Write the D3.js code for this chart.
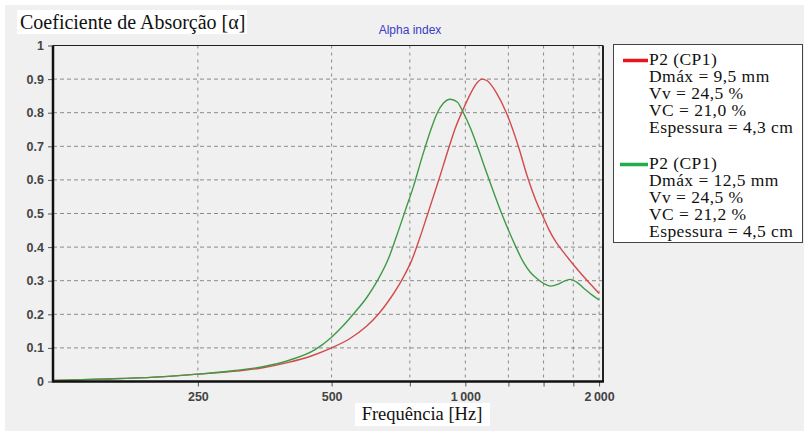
<!DOCTYPE html>
<html>
<head>
<meta charset="utf-8">
<script src="https://cdn.jsdelivr.net/npm/d3@7"></script>
<style>
  body { margin: 0; background: #fff; }
  svg { display: block; }
</style>
</head>
<body>
<div id="chart"></div>
<script>
// frequências (Hz) e coeficientes
const redFreq  = [118, 150, 200, 250, 300, 350, 400, 450, 500, 550, 600, 637, 680, 725, 758, 790, 821, 869, 915, 950, 985, 1030, 1064, 1090, 1120, 1174, 1237, 1316, 1379, 1445, 1499, 1538, 1603, 1663, 1733, 1816, 1912, 2000];
const redAlpha = [0.003, 0.007, 0.013, 0.022, 0.030, 0.041, 0.057, 0.076, 0.100, 0.128, 0.165, 0.200, 0.250, 0.310, 0.362, 0.428, 0.495, 0.595, 0.690, 0.755, 0.805, 0.860, 0.890, 0.900, 0.895, 0.860, 0.800, 0.700, 0.610, 0.535, 0.488, 0.455, 0.413, 0.385, 0.355, 0.323, 0.290, 0.262];

const greenFreq  = [118, 150, 200, 250, 300, 350, 403, 459, 500, 530, 559, 600, 634, 671, 699, 733, 764, 800, 834, 865, 892, 925, 959, 990, 1026, 1064, 1121, 1199, 1300, 1351, 1400, 1460, 1510, 1554, 1620, 1680, 1724, 1780, 1850, 1930, 2000];
const greenAlpha = [0.003, 0.007, 0.013, 0.022, 0.032, 0.044, 0.064, 0.095, 0.132, 0.165, 0.200, 0.250, 0.300, 0.365, 0.430, 0.510, 0.580, 0.670, 0.745, 0.800, 0.828, 0.840, 0.832, 0.800, 0.755, 0.700, 0.615, 0.510, 0.400, 0.355, 0.325, 0.303, 0.290, 0.284, 0.290, 0.300, 0.304, 0.296, 0.277, 0.257, 0.243];

const xTickLabels = [250, 500, 1000, 2000];
const xGrid = [250, 500, 750, 1000, 1250, 1500, 1750, 2000];
const yTicks = [0, 0.1, 0.2, 0.3, 0.4, 0.5, 0.6, 0.7, 0.8, 0.9, 1];

const legendRed = ["P2 (CP1)", "Dmáx = 9,5 mm", "Vv = 24,5 %", "VC = 21,0 %", "Espessura = 4,3 cm"];
const legendGreen = ["P2 (CP1)", "Dmáx = 12,5 mm", "Vv = 24,5 %", "VC = 21,2 %", "Espessura = 4,5 cm"];

const W = 804, H = 431;
const plot = { left: 53, right: 603, top: 45.5, bottom: 381.5 };

const svg = d3.select("#chart").append("svg")
  .attr("width", W).attr("height", H);

svg.append("rect").attr("x", 5).attr("y", 5).attr("width", W - 5).attr("height", H - 5)
  .attr("fill", "#f0f0f0");

const x = d3.scaleLog().domain([118, 2041]).range([plot.left, plot.right]);
const y = d3.scaleLinear().domain([0, 1]).range([plot.bottom, plot.top]);

// grade
const grid = svg.append("g");
grid.selectAll(".hg").data(yTicks.filter(d => d > 0 && d < 1)).join("line")
  .attr("x1", plot.left).attr("x2", plot.right)
  .attr("y1", d => y(d)).attr("y2", d => y(d))
  .attr("stroke", "#8a8a8a").attr("stroke-dasharray", "4,3");
grid.selectAll(".vg").data(xGrid).join("line")
  .attr("x1", d => x(d)).attr("x2", d => x(d))
  .attr("y1", plot.top).attr("y2", plot.bottom)
  .attr("stroke", "#8a8a8a").attr("stroke-dasharray", "3,4");

// eixos
const yAxis = d3.axisLeft(y).tickValues(yTicks).tickSize(5).tickFormat(d => d === 0 || d === 1 ? d3.format("d")(d) : d3.format(".1f")(d));
const gy = svg.append("g").attr("transform", `translate(${plot.left},0)`).call(yAxis);
gy.select(".domain").remove();
gy.selectAll(".tick line").attr("stroke", "#555");
gy.selectAll("text").attr("font-family", "Liberation Sans, Arial, sans-serif")
  .attr("font-size", 12.5).attr("font-weight", "bold").attr("fill", "#444").attr("dx", -1);

const xAxis = d3.axisBottom(x).tickValues(xGrid).tickSize(5)
  .tickFormat(d => xTickLabels.includes(d) ? d3.format(",")(d).replace(",", "\u2009") : "");
const gx = svg.append("g").attr("transform", `translate(0,${plot.bottom})`).call(xAxis);
gx.select(".domain").remove();
gx.selectAll(".tick line").attr("stroke", "#555");
gx.selectAll("text").attr("font-family", "Liberation Sans, Arial, sans-serif")
  .attr("font-size", 12.5).attr("font-weight", "bold").attr("fill", "#444").attr("dy", "0.95em");

// curvas
const line = d3.line().x(d => x(d[0])).y(d => y(d[1])).curve(d3.curveMonotoneX);
svg.append("path").datum(d3.zip(redFreq, redAlpha))
  .attr("fill", "none").attr("stroke", "#d24a4a").attr("stroke-width", 1.4).attr("d", line);
svg.append("path").datum(d3.zip(greenFreq, greenAlpha))
  .attr("fill", "none").attr("stroke", "#3f9a45").attr("stroke-width", 1.4).attr("d", line);

// moldura
svg.append("line").attr("x1", plot.left).attr("x2", plot.right).attr("y1", plot.top).attr("y2", plot.top)
  .attr("stroke", "#222").attr("stroke-width", 1);
svg.append("line").attr("x1", plot.right).attr("x2", plot.right).attr("y1", plot.top).attr("y2", plot.bottom)
  .attr("stroke", "#222").attr("stroke-width", 2);
svg.append("line").attr("x1", plot.left).attr("x2", plot.left).attr("y1", plot.top).attr("y2", plot.bottom + 1)
  .attr("stroke", "#111").attr("stroke-width", 2.5);
svg.append("line").attr("x1", plot.left).attr("x2", plot.right + 1).attr("y1", plot.bottom).attr("y2", plot.bottom)
  .attr("stroke", "#111").attr("stroke-width", 2.5);

// títulos
svg.append("rect").attr("x", 17).attr("y", 10).attr("width", 230).attr("height", 24).attr("fill", "#fff");
svg.append("text").attr("x", 20).attr("y", 29)
  .attr("font-family", "Liberation Serif, Times New Roman, serif").attr("font-size", 20)
  .attr("fill", "#111").text("Coeficiente de Absorção [α]");

svg.append("text").attr("x", 410).attr("y", 34).attr("text-anchor", "middle")
  .attr("font-family", "Liberation Sans, Arial, sans-serif").attr("font-size", 12)
  .attr("fill", "#3a3ac8").text("Alpha index");

svg.append("rect").attr("x", 355).attr("y", 403).attr("width", 135).attr("height", 23).attr("fill", "#fff");
svg.append("text").attr("x", 422).attr("y", 420).attr("text-anchor", "middle")
  .attr("font-family", "Liberation Serif, Times New Roman, serif").attr("font-size", 18.5)
  .attr("fill", "#111").text("Frequência [Hz]");

// legenda
const lg = svg.append("g");
lg.append("rect").attr("x", 613.5).attr("y", 44.5).attr("width", 189).attr("height", 198)
  .attr("fill", "#fff").attr("stroke", "#444");
const groups = [
  { lines: legendRed, color: "#e8141e", y0: 65, x1: 623 },
  { lines: legendGreen, color: "#1fae4a", y0: 169, x1: 620 }
];
groups.forEach(gr => {
  lg.append("line").attr("x1", gr.x1).attr("x2", 648).attr("y1", gr.y0 - 4.5).attr("y2", gr.y0 - 4.5)
    .attr("stroke", gr.color).attr("stroke-width", 3.5);
  lg.selectAll(null).data(gr.lines).join("text")
    .attr("x", 649).attr("y", (d, i) => gr.y0 + i * 17.1)
    .attr("font-family", "Liberation Serif, Times New Roman, serif").attr("font-size", 17.5)
    .attr("letter-spacing", 0.45)
    .attr("fill", "#111").text(d => d);
});
</script>
</body>
</html>
